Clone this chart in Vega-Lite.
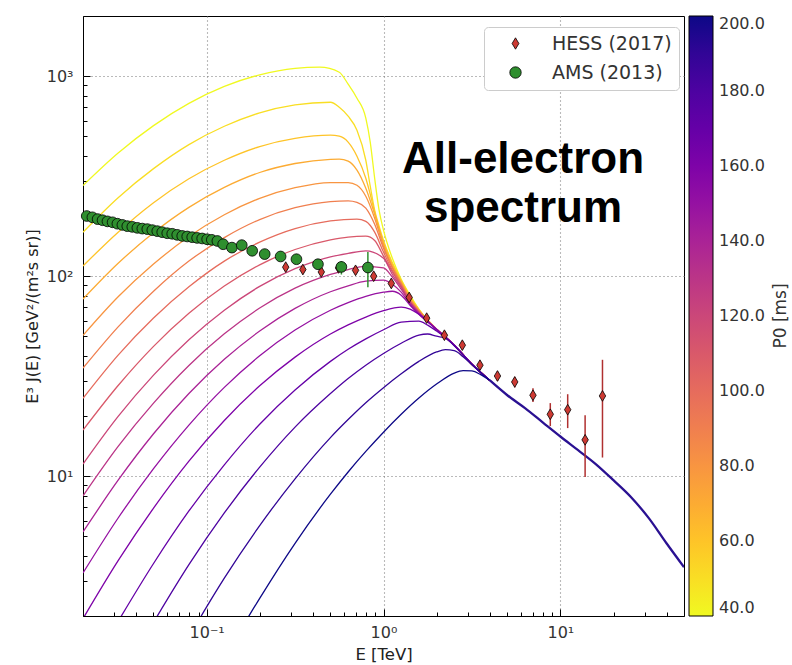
{
"$schema":"https://vega.github.io/schema/vega-lite/v6.json",
"width":601,"height":600,
"autosize":{"type":"none"},
"padding":{"left":83,"top":16,"right":108,"bottom":49},
"background":"white",
"config":{"view":{"stroke":"black","strokeWidth":1},"font":"DejaVu Sans","axis":{"labelColor":"#333","titleColor":"#222","labelFont":"DejaVu Sans","titleFont":"DejaVu Sans"},"legend":{"labelFont":"DejaVu Sans","titleFont":"DejaVu Sans"}},
"datasets":{
"curves":[
{"p":40,"e":0.02,"v":284},{"p":40,"e":0.0316,"v":413},{"p":40,"e":0.0501,"v":566},{"p":40,"e":0.0794,"v":731},{"p":40,"e":0.1259,"v":889},{"p":40,"e":0.1995,"v":1016},{"p":40,"e":0.3162,"v":1094},{"p":40,"e":0.4365,"v":1109},{"p":40,"e":0.5623,"v":1047},{"p":40,"e":0.631,"v":912},{"p":40,"e":0.7079,"v":776},{"p":40,"e":0.7943,"v":617},{"p":40,"e":0.8414,"v":468},{"p":40,"e":0.8913,"v":309},{"p":40,"e":0.9441,"v":214},{"p":40,"e":1,"v":170},{"p":40,"e":1.122,"v":123},{"p":40,"e":1.259,"v":96.6},{"p":40,"e":1.413,"v":80.4},{"p":40,"e":1.585,"v":68.4},{"p":40,"e":1.995,"v":54.3},{"p":40,"e":2.512,"v":45.2},{"p":40,"e":3.162,"v":36.3},{"p":40,"e":3.981,"v":30.2},
{"p":50,"e":0.02,"v":166},{"p":50,"e":0.0316,"v":247},{"p":50,"e":0.0501,"v":345},{"p":50,"e":0.0794,"v":455},{"p":50,"e":0.1259,"v":562},{"p":50,"e":0.1995,"v":656},{"p":50,"e":0.3162,"v":719},{"p":50,"e":0.5012,"v":741},{"p":50,"e":0.5623,"v":700},{"p":50,"e":0.631,"v":631},{"p":50,"e":0.7079,"v":537},{"p":50,"e":0.7943,"v":380},{"p":50,"e":0.8414,"v":282},{"p":50,"e":0.8913,"v":214},{"p":50,"e":0.9441,"v":178},{"p":50,"e":1,"v":151},{"p":50,"e":1.122,"v":117},{"p":50,"e":1.259,"v":95.5},{"p":50,"e":1.413,"v":79.4},{"p":50,"e":1.585,"v":68.1},{"p":50,"e":1.995,"v":54.3},{"p":50,"e":2.512,"v":45.2},{"p":50,"e":3.162,"v":36.3},{"p":50,"e":3.981,"v":30.2},
{"p":60,"e":0.02,"v":112.5},{"p":60,"e":0.0316,"v":166},{"p":60,"e":0.0501,"v":233},{"p":60,"e":0.0794,"v":307},{"p":60,"e":0.1259,"v":380},{"p":60,"e":0.1995,"v":445},{"p":60,"e":0.3162,"v":489},{"p":60,"e":0.5012,"v":507},{"p":60,"e":0.5623,"v":501},{"p":60,"e":0.631,"v":468},{"p":60,"e":0.7079,"v":398},{"p":60,"e":0.7943,"v":309},{"p":60,"e":0.8414,"v":257},{"p":60,"e":0.8913,"v":209},{"p":60,"e":0.9441,"v":174},{"p":60,"e":1,"v":148},{"p":60,"e":1.122,"v":115},{"p":60,"e":1.259,"v":94.4},{"p":60,"e":1.413,"v":78.5},{"p":60,"e":1.585,"v":67.9},{"p":60,"e":1.995,"v":54.3},{"p":60,"e":2.512,"v":45.2},{"p":60,"e":3.162,"v":36.3},{"p":60,"e":3.981,"v":30.2},
{"p":70,"e":0.02,"v":76.9},{"p":70,"e":0.0316,"v":116},{"p":70,"e":0.0501,"v":165},{"p":70,"e":0.0794,"v":221},{"p":70,"e":0.1259,"v":278},{"p":70,"e":0.1995,"v":330},{"p":70,"e":0.3162,"v":366},{"p":70,"e":0.5012,"v":384},{"p":70,"e":0.5623,"v":385},{"p":70,"e":0.631,"v":376},{"p":70,"e":0.7079,"v":339},{"p":70,"e":0.7943,"v":275},{"p":70,"e":0.8913,"v":204},{"p":70,"e":1,"v":145},{"p":70,"e":1.122,"v":112},{"p":70,"e":1.259,"v":93.3},{"p":70,"e":1.413,"v":77.6},{"p":70,"e":1.585,"v":67.6},{"p":70,"e":1.995,"v":54.3},{"p":70,"e":2.512,"v":45.2},{"p":70,"e":3.162,"v":36.3},{"p":70,"e":3.981,"v":30.2},
{"p":80,"e":0.02,"v":50.6},{"p":80,"e":0.0316,"v":78.9},{"p":80,"e":0.0501,"v":115},{"p":80,"e":0.0794,"v":158},{"p":80,"e":0.1259,"v":203},{"p":80,"e":0.1995,"v":245},{"p":80,"e":0.3162,"v":277},{"p":80,"e":0.5012,"v":294},{"p":80,"e":0.631,"v":294},{"p":80,"e":0.7079,"v":285},{"p":80,"e":0.7943,"v":251},{"p":80,"e":0.8913,"v":195},{"p":80,"e":1,"v":141},{"p":80,"e":1.122,"v":111},{"p":80,"e":1.259,"v":92.3},{"p":80,"e":1.413,"v":76.7},{"p":80,"e":1.585,"v":67.3},{"p":80,"e":1.995,"v":54.3},{"p":80,"e":2.512,"v":45.2},{"p":80,"e":3.162,"v":36.3},{"p":80,"e":3.981,"v":30.2},
{"p":90,"e":0.02,"v":34.7},{"p":90,"e":0.0316,"v":55.8},{"p":90,"e":0.0501,"v":84.1},{"p":90,"e":0.0794,"v":119},{"p":90,"e":0.1259,"v":156},{"p":90,"e":0.1995,"v":192},{"p":90,"e":0.3162,"v":220},{"p":90,"e":0.5012,"v":236},{"p":90,"e":0.631,"v":238},{"p":90,"e":0.7079,"v":234},{"p":90,"e":0.7943,"v":219},{"p":90,"e":0.8913,"v":182},{"p":90,"e":1,"v":138},{"p":90,"e":1.122,"v":110},{"p":90,"e":1.259,"v":91.2},{"p":90,"e":1.413,"v":75.9},{"p":90,"e":1.585,"v":66.8},{"p":90,"e":1.995,"v":54.3},{"p":90,"e":2.512,"v":45.2},{"p":90,"e":3.162,"v":36.3},{"p":90,"e":3.981,"v":30.2},
{"p":100,"e":0.02,"v":24.5},{"p":100,"e":0.0316,"v":40.3},{"p":100,"e":0.0501,"v":61.8},{"p":100,"e":0.0794,"v":88.5},{"p":100,"e":0.1259,"v":119},{"p":100,"e":0.1995,"v":148},{"p":100,"e":0.3162,"v":173},{"p":100,"e":0.5012,"v":189},{"p":100,"e":0.7079,"v":193},{"p":100,"e":0.7943,"v":188},{"p":100,"e":0.8913,"v":166},{"p":100,"e":1,"v":132},{"p":100,"e":1.122,"v":107},{"p":100,"e":1.259,"v":90.2},{"p":100,"e":1.413,"v":75.0},{"p":100,"e":1.585,"v":66.5},{"p":100,"e":1.995,"v":54.3},{"p":100,"e":2.512,"v":45.2},{"p":100,"e":3.162,"v":36.3},{"p":100,"e":3.981,"v":30.2},
{"p":110,"e":0.02,"v":17.0},{"p":110,"e":0.0316,"v":28.4},{"p":110,"e":0.0501,"v":44.6},{"p":110,"e":0.0794,"v":65.3},{"p":110,"e":0.1259,"v":89.3},{"p":110,"e":0.1995,"v":114},{"p":110,"e":0.3162,"v":136},{"p":110,"e":0.5012,"v":152},{"p":110,"e":0.631,"v":157},{"p":110,"e":0.7943,"v":158.5},{"p":110,"e":0.8913,"v":151},{"p":110,"e":1,"v":126},{"p":110,"e":1.122,"v":105},{"p":110,"e":1.259,"v":89.1},{"p":110,"e":1.413,"v":74.5},{"p":110,"e":1.585,"v":66.1},{"p":110,"e":1.995,"v":54.3},{"p":110,"e":2.512,"v":45.2},{"p":110,"e":3.162,"v":36.3},{"p":110,"e":3.981,"v":30.2},
{"p":120,"e":0.02,"v":11.5},{"p":120,"e":0.0316,"v":19.9},{"p":120,"e":0.0501,"v":32.0},{"p":120,"e":0.0794,"v":48.1},{"p":120,"e":0.1259,"v":67.6},{"p":120,"e":0.1995,"v":88.9},{"p":120,"e":0.3162,"v":109},{"p":120,"e":0.5012,"v":125},{"p":120,"e":0.631,"v":130},{"p":120,"e":0.7943,"v":134},{"p":120,"e":1,"v":123},{"p":120,"e":1.122,"v":102},{"p":120,"e":1.259,"v":88.1},{"p":120,"e":1.413,"v":74.1},{"p":120,"e":1.585,"v":65.8},{"p":120,"e":1.995,"v":54.3},{"p":120,"e":2.512,"v":45.2},{"p":120,"e":3.162,"v":36.3},{"p":120,"e":3.981,"v":30.2},
{"p":130,"e":0.02,"v":7.98},{"p":130,"e":0.0316,"v":14.1},{"p":130,"e":0.0501,"v":23.2},{"p":130,"e":0.0794,"v":35.8},{"p":130,"e":0.1259,"v":51.5},{"p":130,"e":0.1995,"v":69.3},{"p":130,"e":0.3162,"v":87.1},{"p":130,"e":0.5012,"v":102},{"p":130,"e":0.631,"v":108},{"p":130,"e":0.7943,"v":112},{"p":130,"e":1,"v":110},{"p":130,"e":1.122,"v":98.9},{"p":130,"e":1.259,"v":86.1},{"p":130,"e":1.413,"v":73.8},{"p":130,"e":1.585,"v":65.5},{"p":130,"e":1.995,"v":54.3},{"p":130,"e":2.512,"v":45.2},{"p":130,"e":3.162,"v":36.3},{"p":130,"e":3.981,"v":30.2},
{"p":140,"e":0.02,"v":5.26},{"p":140,"e":0.0316,"v":9.55},{"p":140,"e":0.0501,"v":16.3},{"p":140,"e":0.0794,"v":25.9},{"p":140,"e":0.1259,"v":38.4},{"p":140,"e":0.1995,"v":53.2},{"p":140,"e":0.3162,"v":69.0},{"p":140,"e":0.5012,"v":83.6},{"p":140,"e":0.631,"v":89.5},{"p":140,"e":0.7943,"v":94.4},{"p":140,"e":1,"v":95.5},{"p":140,"e":1.122,"v":91.2},{"p":140,"e":1.259,"v":83.2},{"p":140,"e":1.413,"v":72.4},{"p":140,"e":1.585,"v":64.9},{"p":140,"e":1.995,"v":54.3},{"p":140,"e":2.512,"v":45.2},{"p":140,"e":3.162,"v":36.3},{"p":140,"e":3.981,"v":30.2},
{"p":150,"e":0.02,"v":3.28},{"p":150,"e":0.0316,"v":6.18},{"p":150,"e":0.0501,"v":10.9},{"p":150,"e":0.0794,"v":18.0},{"p":150,"e":0.1259,"v":27.8},{"p":150,"e":0.1995,"v":40.0},{"p":150,"e":0.3162,"v":53.8},{"p":150,"e":0.5012,"v":67.6},{"p":150,"e":0.631,"v":73.8},{"p":150,"e":0.7943,"v":79.3},{"p":150,"e":1,"v":83.2},{"p":150,"e":1.122,"v":84.1},{"p":150,"e":1.259,"v":80.4},{"p":150,"e":1.413,"v":71.6},{"p":150,"e":1.585,"v":64.6},{"p":150,"e":1.995,"v":54.3},{"p":150,"e":2.512,"v":45.2},{"p":150,"e":3.162,"v":36.3},{"p":150,"e":3.981,"v":30.2},
{"p":160,"e":0.02,"v":1.94},{"p":160,"e":0.0316,"v":3.78},{"p":160,"e":0.0501,"v":6.93},{"p":160,"e":0.0794,"v":11.9},{"p":160,"e":0.1259,"v":19.0},{"p":160,"e":0.1995,"v":28.3},{"p":160,"e":0.3162,"v":39.4},{"p":160,"e":0.5012,"v":51.4},{"p":160,"e":0.631,"v":57.1},{"p":160,"e":0.7943,"v":62.5},{"p":160,"e":1,"v":67.3},{"p":160,"e":1.259,"v":70.0},{"p":160,"e":1.413,"v":68.4},{"p":160,"e":1.585,"v":64.6},{"p":160,"e":1.995,"v":54.1},{"p":160,"e":2.512,"v":45.2},{"p":160,"e":3.162,"v":36.3},{"p":160,"e":3.981,"v":30.2},
{"p":170,"e":0.0316,"v":1.88},{"p":170,"e":0.0501,"v":3.66},{"p":170,"e":0.0794,"v":6.70},{"p":170,"e":0.1259,"v":11.4},{"p":170,"e":0.1995,"v":18.2},{"p":170,"e":0.3162,"v":27.0},{"p":170,"e":0.5012,"v":37.5},{"p":170,"e":0.631,"v":43.1},{"p":170,"e":0.7943,"v":48.6},{"p":170,"e":1,"v":54.0},{"p":170,"e":1.259,"v":58.9},{"p":170,"e":1.585,"v":59.6},{"p":170,"e":1.778,"v":56.9},{"p":170,"e":1.995,"v":53.2},{"p":170,"e":2.512,"v":45.2},{"p":170,"e":3.162,"v":36.3},{"p":170,"e":3.981,"v":30.2},
{"p":180,"e":0.0501,"v":1.86},{"p":180,"e":0.0794,"v":3.61},{"p":180,"e":0.1259,"v":6.55},{"p":180,"e":0.1995,"v":11.1},{"p":180,"e":0.3162,"v":17.6},{"p":180,"e":0.5012,"v":25.9},{"p":180,"e":0.631,"v":30.8},{"p":180,"e":0.7943,"v":35.9},{"p":180,"e":1,"v":41.1},{"p":180,"e":1.259,"v":46.2},{"p":180,"e":1.585,"v":50.8},{"p":180,"e":1.778,"v":51.4},{"p":180,"e":1.995,"v":50.1},{"p":180,"e":2.239,"v":49.0},{"p":180,"e":2.512,"v":44.9},{"p":180,"e":3.162,"v":36.3},{"p":180,"e":3.981,"v":30.2},
{"p":190,"e":0.0794,"v":1.57},{"p":190,"e":0.1,"v":2.22},{"p":190,"e":0.1259,"v":3.09},{"p":190,"e":0.1995,"v":5.66},{"p":190,"e":0.3162,"v":9.70},{"p":190,"e":0.5012,"v":15.6},{"p":190,"e":0.631,"v":19.2},{"p":190,"e":0.7943,"v":23.3},{"p":190,"e":1,"v":27.7},{"p":190,"e":1.259,"v":32.5},{"p":190,"e":1.585,"v":37.5},{"p":190,"e":1.995,"v":41.8},{"p":190,"e":2.239,"v":42.9},{"p":190,"e":2.512,"v":42.4},{"p":190,"e":2.818,"v":39.6},{"p":190,"e":3.162,"v":36.1},{"p":190,"e":3.981,"v":30.2},
{"p":200,"e":0.1259,"v":1.22},{"p":200,"e":0.1585,"v":1.75},{"p":200,"e":0.1995,"v":2.45},{"p":200,"e":0.3162,"v":4.62},{"p":200,"e":0.5012,"v":8.13},{"p":200,"e":0.631,"v":10.5},{"p":200,"e":0.7943,"v":13.3},{"p":200,"e":1,"v":16.6},{"p":200,"e":1.259,"v":20.4},{"p":200,"e":1.585,"v":24.6},{"p":200,"e":1.995,"v":28.9},{"p":200,"e":2.512,"v":32.8},{"p":200,"e":2.818,"v":33.7},{"p":200,"e":3.162,"v":33.6},{"p":200,"e":3.548,"v":32.2},{"p":200,"e":3.981,"v":30.2}
],
"tail":[
{"e":3.981,"v":30.2},{"e":5.012,"v":25.4},{"e":6.31,"v":21.9},{"e":7.943,"v":18.6},{"e":10,"v":15.8},{"e":12.59,"v":13.5},{"e":15.85,"v":11.5},{"e":19.95,"v":9.55},{"e":25.12,"v":7.85},{"e":31.62,"v":6.17},{"e":39.81,"v":4.62},{"e":50,"v":3.51}
],
"pts":[
{"set":"HESS (2017)","e":0.28,"v":111,"lo":106,"hi":116},
{"set":"HESS (2017)","e":0.35,"v":108,"lo":103.5,"hi":112.5},
{"set":"HESS (2017)","e":0.445,"v":105,"lo":100.5,"hi":109.5},
{"set":"HESS (2017)","e":0.557,"v":110,"lo":105.5,"hi":114.5},
{"set":"HESS (2017)","e":0.695,"v":107,"lo":102.5,"hi":111.5},
{"set":"HESS (2017)","e":0.88,"v":100,"lo":95.5,"hi":104.5},
{"set":"HESS (2017)","e":1.107,"v":92,"lo":88,"hi":96},
{"set":"HESS (2017)","e":1.397,"v":78.3,"lo":75,"hi":81.6},
{"set":"HESS (2017)","e":1.754,"v":61.7,"lo":59,"hi":64.4},
{"set":"HESS (2017)","e":2.21,"v":50.7,"lo":48.3,"hi":53.1},
{"set":"HESS (2017)","e":2.79,"v":45.2,"lo":43,"hi":47.4},
{"set":"HESS (2017)","e":3.51,"v":35.9,"lo":34,"hi":37.8},
{"set":"HESS (2017)","e":4.41,"v":31.7,"lo":30,"hi":33.4},
{"set":"HESS (2017)","e":5.52,"v":29.6,"lo":27.8,"hi":31.4},
{"set":"HESS (2017)","e":7.0,"v":25.4,"lo":23.5,"hi":27.5},
{"set":"HESS (2017)","e":8.77,"v":20.4,"lo":17.8,"hi":23.2},
{"set":"HESS (2017)","e":11.0,"v":21.5,"lo":17.4,"hi":25.7},
{"set":"HESS (2017)","e":13.8,"v":15.2,"lo":9.9,"hi":20.2},
{"set":"HESS (2017)","e":17.3,"v":25.2,"lo":12.4,"hi":38.2},
{"set":"AMS (2013)","e":0.021,"v":200,"lo":196,"hi":204},
{"set":"AMS (2013)","e":0.0226,"v":197,"lo":193,"hi":201},
{"set":"AMS (2013)","e":0.0242,"v":193,"lo":189,"hi":197},
{"set":"AMS (2013)","e":0.0258,"v":190.5,"lo":187,"hi":194},
{"set":"AMS (2013)","e":0.0275,"v":188,"lo":184,"hi":192},
{"set":"AMS (2013)","e":0.0294,"v":186,"lo":182,"hi":190},
{"set":"AMS (2013)","e":0.0313,"v":183,"lo":179,"hi":187},
{"set":"AMS (2013)","e":0.0334,"v":180.5,"lo":177,"hi":184},
{"set":"AMS (2013)","e":0.0356,"v":178,"lo":174,"hi":182},
{"set":"AMS (2013)","e":0.038,"v":176.5,"lo":173,"hi":180},
{"set":"AMS (2013)","e":0.0406,"v":174.5,"lo":171,"hi":178},
{"set":"AMS (2013)","e":0.0433,"v":173,"lo":169.5,"hi":176.5},
{"set":"AMS (2013)","e":0.0462,"v":172,"lo":168.5,"hi":175.5},
{"set":"AMS (2013)","e":0.0493,"v":170,"lo":166.5,"hi":173.5},
{"set":"AMS (2013)","e":0.0526,"v":168,"lo":164.5,"hi":171.5},
{"set":"AMS (2013)","e":0.0561,"v":166,"lo":162.5,"hi":169.5},
{"set":"AMS (2013)","e":0.0599,"v":164,"lo":160.5,"hi":167.5},
{"set":"AMS (2013)","e":0.0639,"v":163,"lo":159.5,"hi":166.5},
{"set":"AMS (2013)","e":0.0682,"v":161,"lo":157.5,"hi":164.5},
{"set":"AMS (2013)","e":0.0728,"v":159,"lo":155.5,"hi":162.5},
{"set":"AMS (2013)","e":0.0777,"v":158,"lo":154.5,"hi":161.5},
{"set":"AMS (2013)","e":0.0829,"v":156.7,"lo":153,"hi":160.4},
{"set":"AMS (2013)","e":0.0884,"v":155.4,"lo":152,"hi":158.8},
{"set":"AMS (2013)","e":0.0944,"v":154.4,"lo":151,"hi":157.8},
{"set":"AMS (2013)","e":0.1007,"v":153,"lo":149.5,"hi":156.5},
{"set":"AMS (2013)","e":0.107,"v":152,"lo":148.5,"hi":155.5},
{"set":"AMS (2013)","e":0.115,"v":150,"lo":146.5,"hi":153.5},
{"set":"AMS (2013)","e":0.124,"v":144.5,"lo":141,"hi":148},
{"set":"AMS (2013)","e":0.139,"v":139,"lo":135.5,"hi":142.5},
{"set":"AMS (2013)","e":0.158,"v":143,"lo":139.5,"hi":146.5},
{"set":"AMS (2013)","e":0.181,"v":134,"lo":130.5,"hi":137.5},
{"set":"AMS (2013)","e":0.213,"v":129,"lo":125.5,"hi":132.5},
{"set":"AMS (2013)","e":0.262,"v":125.5,"lo":122,"hi":129},
{"set":"AMS (2013)","e":0.322,"v":121.6,"lo":117.5,"hi":125.7},
{"set":"AMS (2013)","e":0.426,"v":114.8,"lo":110,"hi":120},
{"set":"AMS (2013)","e":0.578,"v":111.3,"lo":102,"hi":119},
{"set":"AMS (2013)","e":0.816,"v":110.5,"lo":88,"hi":132}
],
"txt":[{"t":"All-electron","e":6.15,"v":330},{"t":"spectrum","e":6.15,"v":187}]
},
"layer":[
{"data":{"name":"curves"},
 "mark":{"type":"line","interpolate":"monotone","strokeWidth":1.3,"clip":true},
 "encoding":{
  "x":{"field":"e","type":"quantitative","scale":{"type":"log","domain":[0.02,50],"nice":false},
   "axis":{"orient":"bottom","values":[0.1,1,10],"labelExpr":"datum.value < 0.5 ? '10⁻¹' : datum.value < 5 ? '10⁰' : '10¹'","ticks":false,"domain":false,"grid":true,"gridDash":[1,3],"gridColor":"#777","gridWidth":1.1,"labelPadding":8,"labelFontSize":16,"title":"E [TeV]","titleFontSize":16.5,"titleFontWeight":"normal","titlePadding":6}},
  "y":{"field":"v","type":"quantitative","scale":{"type":"log","domain":[2,2000],"nice":false},
   "axis":{"orient":"left","values":[10,100,1000],"labelExpr":"datum.value < 50 ? '10¹' : datum.value < 500 ? '10²' : '10³'","ticks":false,"domain":false,"grid":true,"gridDash":[1,3],"gridColor":"#777","gridWidth":1.1,"labelPadding":10,"labelFontSize":16,"title":"E³ J(E) [GeV²/(m²s sr)]","titleFontSize":16,"titleFontWeight":"normal","titlePadding":6}},
  "color":{"field":"p","type":"quantitative","scale":{"scheme":"plasma","domain":[40,200],"reverse":true},
   "legend":{"orient":"right","offset":5,"type":"gradient","direction":"vertical","gradientLength":600,"gradientThickness":24,"gradientStrokeColor":"black","gradientStrokeWidth":1,"values":[40,60,80,100,120,140,160,180,200],"format":".1f","labelFontSize":16,"labelColor":"#333","labelOffset":6,"labelBaseline":"middle","labelOverlap":false,"title":"P0 [ms]","titleOrient":"right","titleFontSize":17,"titleFontWeight":"normal","titleColor":"#333","titlePadding":8,"titleAnchor":"middle","padding":0,
    "encode":{"title":{"update":{"angle":{"value":270},"baseline":{"value":"top"}}}}}}
 }},
{"data":{"name":"tail"},
 "mark":{"type":"line","interpolate":"monotone","strokeWidth":2.3,"color":"#2a1192","clip":true},
 "encoding":{
  "x":{"field":"e","type":"quantitative","axis":{"orient":"bottom","values":[0.02,0.03,0.04,0.05,0.06,0.07,0.08,0.09,0.2,0.3,0.4,0.5,0.6,0.7,0.8,0.9,2,3,4,5,6,7,8,9,20,30,40,50],"labels":false,"ticks":true,"tickSize":-4,"tickColor":"black","domain":false,"grid":false,"title":null}},
  "y":{"field":"v","type":"quantitative","axis":{"orient":"left","values":[2,3,4,5,6,7,8,9,20,30,40,50,60,70,80,90,200,300,400,500,600,700,800,900,2000],"labels":false,"ticks":true,"tickSize":-4,"tickColor":"black","domain":false,"grid":false,"title":null}}
 }},
{"data":{"name":"pts"},
 "transform":[{"filter":"datum.set == 'HESS (2017)'"}],
 "mark":{"type":"rule","color":"#b03030","strokeWidth":1.5},
 "encoding":{
  "x":{"field":"e","type":"quantitative","axis":{"orient":"bottom","values":[0.1,1,10],"labels":false,"ticks":true,"tickSize":-7,"tickColor":"black","domain":false,"grid":false,"title":null}},
  "y":{"field":"lo","type":"quantitative","axis":{"orient":"left","values":[10,100,1000],"labels":false,"ticks":true,"tickSize":-7,"tickColor":"black","domain":false,"grid":false,"title":null}},
  "y2":{"field":"hi"}
 }},
{"data":{"name":"pts"},
 "transform":[{"filter":"datum.set == 'AMS (2013)'"}],
 "mark":{"type":"rule","color":"#2f8f2f","strokeWidth":1.5},
 "encoding":{
  "x":{"field":"e","type":"quantitative","axis":null},
  "y":{"field":"lo","type":"quantitative","axis":null},
  "y2":{"field":"hi"}
 }},
{"data":{"name":"pts"},
 "mark":{"type":"point","filled":true,"stroke":"black","strokeWidth":0.8,"size":115,"opacity":1},
 "encoding":{
  "x":{"field":"e","type":"quantitative","axis":null},
  "y":{"field":"v","type":"quantitative","axis":null},
  "color":{"field":"set","type":"nominal","scale":{"domain":["HESS (2017)","AMS (2013)"],"range":["#cd3a33","#2f8f2f"]},
   "legend":{"orient":"none","legendX":401,"legendY":11,"title":null,"padding":7,"strokeColor":"#cccccc","fillColor":"white","cornerRadius":4,"labelFontSize":19,"labelColor":"#333","symbolOffset":15,"labelOffset":27,"rowPadding":9,"symbolSize":130,"symbolStrokeColor":"black","symbolStrokeWidth":0.8}},
  "shape":{"field":"set","type":"nominal","scale":{"domain":["HESS (2017)","AMS (2013)"],"range":["M0,-1L0.6,0L0,1L-0.6,0Z","circle"]},
   "legend":{"orient":"none","legendX":401,"legendY":11,"title":null,"padding":7,"strokeColor":"#cccccc","fillColor":"white","cornerRadius":4,"labelFontSize":19,"labelColor":"#333","symbolOffset":15,"labelOffset":27,"rowPadding":9,"symbolSize":130,"symbolStrokeColor":"black","symbolStrokeWidth":0.8}}
 }},
{"data":{"name":"txt"},
 "mark":{"type":"text","font":"Liberation Sans","fontWeight":"bold","fontSize":44,"align":"center","baseline":"alphabetic","color":"black"},
 "encoding":{
  "x":{"field":"e","type":"quantitative","axis":null},
  "y":{"field":"v","type":"quantitative","axis":null},
  "text":{"field":"t"}
 }}
],
"resolve":{"scale":{"color":"independent","shape":"independent"},"axis":{"x":"independent","y":"independent"}}
}
